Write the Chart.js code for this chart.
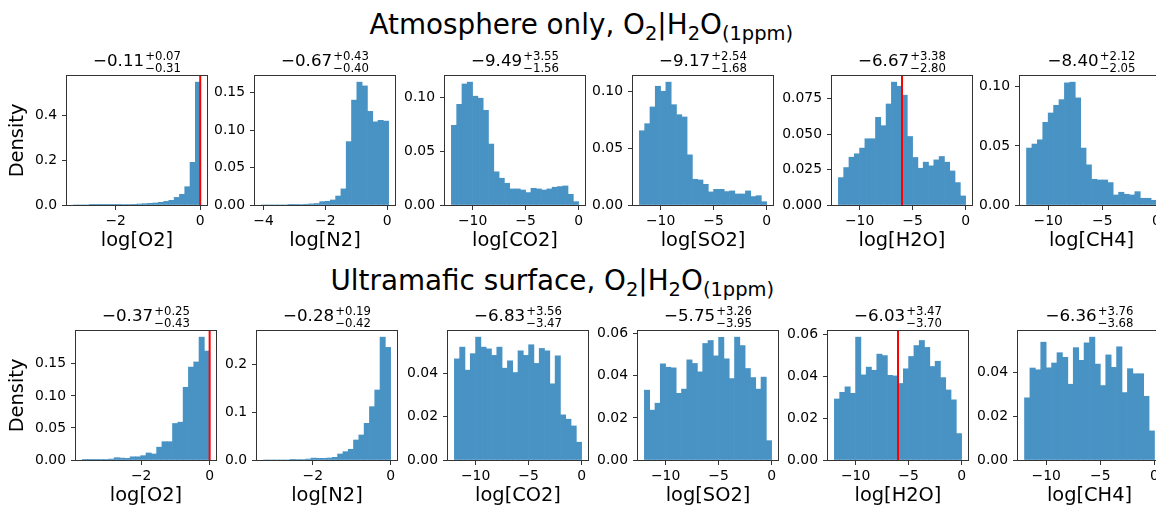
<!DOCTYPE html>
<html>
<head>
<meta charset="utf-8">
<script src="https://cdn.jsdelivr.net/npm/chart.js@4.4.1/dist/chart.umd.min.js"></script>
<style>
  body { margin: 0; width: 1156px; height: 508px; overflow: hidden; background: #fff; position: relative; font-family: 'DejaVu Sans', sans-serif; color: #000; }
  canvas { position: absolute; }
  .sup { position: absolute; font-size: 27.8px; line-height: 27.8px; white-space: nowrap; }
  .sup sub { font-size: 70%; vertical-align: -6px; line-height: 0; }
  .ptitle { position: absolute; font-size: 16.7px; line-height: 16.7px; white-space: nowrap; transform: translateX(-50%); }
  .ss { display: inline-block; vertical-align: -5.6px; font-size: 11.7px; line-height: 11.6px; margin-left: 1px; }
  .ss span { display: block; }
</style>
</head>
<body>
<script>
// species on the x axes
const species = ['O2', 'N2', 'CO2', 'SO2', 'H2O', 'CH4'];

// Atmosphere only - density per bin (24 bins each)
const atmO2  = [0, 0, 0, 0.0003, 0.0005, 0.0005, 0.001, 0.001, 0.0015, 0.002, 0.0025, 0.003, 0.0045, 0.006, 0.0075, 0.009, 0.012, 0.016, 0.021, 0.034, 0.048, 0.082, 0.191, 0.55];
const atmN2  = [0, 0, 0, 0, 0, 0.0003, 0.0005, 0.0007, 0.001, 0.0015, 0.002, 0.0045, 0.005, 0.0067, 0.012, 0.0215, 0.0846, 0.14, 0.164, 0.159, 0.125, 0.111, 0.113, 0.112];
const atmCO2 = [0.0744, 0.094, 0.113, 0.1147, 0.1016, 0.0997, 0.0884, 0.0569, 0.031, 0.025, 0.0203, 0.015, 0.015, 0.014, 0.0116, 0.0156, 0.015, 0.014, 0.015, 0.0166, 0.0172, 0.0178, 0.010, 0.0031];
const atmSO2 = [0.0653, 0.0715, 0.0862, 0.1044, 0.100, 0.108, 0.0882, 0.0794, 0.0774, 0.0441, 0.0226, 0.022, 0.0182, 0.0115, 0.0138, 0.0138, 0.0118, 0.0124, 0.0097, 0.0097, 0.0124, 0.0074, 0.0082, 0.0029];
const atmH2O = [0.0193, 0.0264, 0.0337, 0.0361, 0.0401, 0.0467, 0.0467, 0.0618, 0.0559, 0.0712, 0.0866, 0.0837, 0.0774, 0.0483, 0.0335, 0.0259, 0.0302, 0.0276, 0.0318, 0.0342, 0.0302, 0.024, 0.0158, 0.0064];
const atmCH4 = [0.0482, 0.0516, 0.0552, 0.070, 0.0779, 0.0844, 0.0892, 0.1034, 0.104, 0.0907, 0.0482, 0.034, 0.0218, 0.0212, 0.0212, 0.019, 0.0085, 0.0108, 0.0091, 0.0085, 0.0113, 0.0057, 0.0057, 0.004];

// Ultramafic surface - density per bin
const ultO2  = [0.0003, 0.0003, 0.0005, 0.001, 0.001, 0.0015, 0.0036, 0.003, 0.0026, 0.005, 0.005, 0.0068, 0.011, 0.0094, 0.020, 0.0286, 0.0286, 0.057, 0.059, 0.1135, 0.145, 0.153, 0.1917, 0.170];
const ultN2  = [0, 0, 0, 0, 0, 0.0005, 0.001, 0.001, 0.002, 0.004, 0.0035, 0.0035, 0.0042, 0.0056, 0.0126, 0.0175, 0.0225, 0.042, 0.0526, 0.077, 0.112, 0.147, 0.258, 0.2365];
const ultCO2 = [0.0466, 0.052, 0.0414, 0.049, 0.0566, 0.052, 0.0512, 0.0482, 0.052, 0.0423, 0.0457, 0.0403, 0.0503, 0.0482, 0.0531, 0.0445, 0.0514, 0.0503, 0.0351, 0.048, 0.0208, 0.0188, 0.0157, 0.0082];
const ultSO2 = [0.0332, 0.0237, 0.027, 0.0457, 0.0441, 0.0438, 0.0317, 0.0337, 0.0476, 0.0459, 0.0419, 0.0554, 0.0568, 0.0495, 0.0583, 0.0481, 0.0387, 0.0584, 0.0544, 0.0435, 0.0392, 0.0337, 0.0394, 0.0092];
const ultH2O = [0.0291, 0.0323, 0.0349, 0.0318, 0.0586, 0.0406, 0.0443, 0.0428, 0.0505, 0.0498, 0.0404, 0.0401, 0.0365, 0.0435, 0.0494, 0.0546, 0.057, 0.0537, 0.0446, 0.0471, 0.0393, 0.0334, 0.0287, 0.0126];
const ultCH4 = [0.0284, 0.042, 0.0412, 0.0538, 0.0421, 0.0443, 0.049, 0.0469, 0.0346, 0.0513, 0.0455, 0.0535, 0.0561, 0.0438, 0.034, 0.048, 0.0423, 0.0517, 0.0308, 0.0417, 0.0394, 0.0394, 0.0291, 0.0133];

// histogram ranges [first edge, last edge]
const atmBins = [[-3.0, 0.01], [-4.07, 0.05], [-12, 0], [-12, 0], [-12, 0], [-12, 0]];
const ultBins = [[-3.72, 0], [-3.27, 0], [-12, 0], [-12, 0], [-12, 0], [-12, 0]];

// median and +/- errors shown over each panel
const atmMedian = [-0.11, -0.67, -9.49, -9.17, -6.67, -8.40];
const atmPlus   = [0.07, 0.43, 3.55, 2.54, 3.38, 2.12];
const atmMinus  = [0.31, 0.40, 1.56, 1.68, 2.80, 2.05];
const ultMedian = [-0.37, -0.28, -6.83, -5.75, -6.03, -6.36];
const ultPlus   = [0.25, 0.19, 3.56, 3.26, 3.47, 3.76];
const ultMinus  = [0.43, 0.42, 3.47, 3.95, 3.70, 3.68];

// true value (red line), null where none
const truthValues = [0, null, null, null, -6, null];

// tick values
const atmXTicks = [[-2, 0], [-4, -2, 0], [-10, -5, 0], [-10, -5, 0], [-10, -5, 0], [-10, -5, 0]];
const ultXTicks = [[-2, 0], [-2, 0], [-10, -5, 0], [-10, -5, 0], [-10, -5, 0], [-10, -5, 0]];
const atmYTicks = [[0, 0.2, 0.4], [0, 0.05, 0.1, 0.15], [0, 0.05, 0.1], [0, 0.05, 0.1], [0, 0.025, 0.05, 0.075], [0, 0.05, 0.1]];
const ultYTicks = [[0, 0.05, 0.1, 0.15], [0, 0.1, 0.2], [0, 0.02, 0.04], [0, 0.02, 0.04, 0.06], [0, 0.02, 0.04, 0.06], [0, 0.02, 0.04]];
const atmYDecimals = [1, 2, 2, 2, 3, 2];
const ultYDecimals = [2, 1, 2, 2, 2, 2];

// layout of the plot boxes (pixels)
const rowTop = [76, 331];
const boxLefts = [[67, 255, 445, 633, 832, 1020], [76, 257, 448, 638, 828, 1018]];
const boxWidths = [140, 140, 140, 140, 140, 143];
const BOX_H = 129;
const BAR_COLOR = '#4893c4';
const TICK_FONT = { family: 'DejaVu Sans', size: 13.9 };
const LABEL_FONT = { family: 'DejaVu Sans', size: 19.4, lineHeight: 1 };

Chart.defaults.font.family = 'DejaVu Sans';
Chart.defaults.color = '#000';

function fmt(v, d) {
  const s = Math.abs(v).toFixed(d);
  return (v < 0 && Number(s) !== 0 ? '\u2212' : '') + s;
}

// box around the plot area, like matplotlib spines
const frame = {
  id: 'frame',
  afterDatasetsDraw(chart) {
    const { ctx, chartArea: a } = chart;
    ctx.save();
    ctx.strokeStyle = '#333';
    ctx.lineWidth = 1;
    ctx.strokeRect(a.left - 0.5, a.top - 0.5, a.right - a.left + 1, a.bottom - a.top + 1);
    ctx.restore();
  }
};

function addSuptitle(html, left, top) {
  const d = document.createElement('div');
  d.className = 'sup';
  d.style.left = left + 'px';
  d.style.top = top + 'px';
  d.innerHTML = html;
  document.body.appendChild(d);
}

function addPanelTitle(cx, baseline, med, plus, minus) {
  const d = document.createElement('div');
  d.className = 'ptitle';
  d.style.left = cx + 'px';
  d.style.top = (baseline - 15.85) + 'px';
  d.innerHTML = fmt(med, 2) + '<span class="ss"><span>+' + plus.toFixed(2) + '</span><span>\u2212' + minus.toFixed(2) + '</span></span>';
  document.body.appendChild(d);
}

function drawPanel(r, c, values, range, xTicks, yTicks, yDec) {
  const left = boxLefts[r][c], top = rowTop[r], w = boxWidths[c];
  const ly = c === 0 ? left : 52;
  const T = 4, R = 14, HX = 50;
  const canvas = document.createElement('canvas');
  canvas.width = ly + w + R;
  canvas.height = T + BOX_H + HX;
  canvas.style.left = (left - ly) + 'px';
  canvas.style.top = (top - T) + 'px';
  document.body.appendChild(canvas);

  const span = range[1] - range[0];
  const step = span / values.length;
  const bars = values.map((v, i) => ({ x: range[0] + (i + 0.5) * step, y: v }));
  const yMax = Math.max(...values) * 1.05;

  const datasets = [{
    type: 'bar', data: bars, backgroundColor: BAR_COLOR, borderWidth: 0,
    barPercentage: 1, categoryPercentage: 1, order: 1
  }];
  const truth = truthValues[c];
  if (truth !== null) {
    datasets.push({
      type: 'line', data: [{ x: truth, y: 0 }, { x: truth, y: yMax }],
      borderColor: 'red', borderWidth: 2, pointRadius: 0, order: 0
    });
  }

  const grid = { drawOnChartArea: false, drawTicks: true, tickLength: 5, color: '#333', offset: false };

  new Chart(canvas, {
    type: 'bar',
    data: { datasets: datasets },
    options: {
      responsive: false,
      animation: false,
      events: [],
      layout: { padding: { top: T, right: R, left: 0, bottom: 0 } },
      plugins: { legend: { display: false }, tooltip: { enabled: false } },
      scales: {
        x: {
          type: 'linear', offset: false,
          min: range[0] - 0.05 * span, max: range[1] + 0.05 * span,
          afterBuildTicks: s => { s.ticks = xTicks.map(v => ({ value: v })); },
          afterFit: s => { s.height = HX; s.paddingLeft = 0; s.paddingRight = 0; },
          ticks: { callback: v => fmt(v, 0), font: TICK_FONT, padding: 3, maxRotation: 0, autoSkip: false },
          grid: grid,
          border: { display: false },
          title: { display: true, text: 'log[' + species[c] + ']', font: LABEL_FONT, padding: { top: 0, bottom: 4.5 } }
        },
        y: {
          min: 0, max: yMax,
          afterBuildTicks: s => { s.ticks = yTicks.map(v => ({ value: v })); },
          afterFit: s => { s.width = ly; s.paddingTop = 0; s.paddingBottom = 0; },
          ticks: { callback: v => fmt(v, yDec), font: TICK_FONT, padding: 5, autoSkip: false },
          grid: grid,
          border: { display: false },
          title: c === 0
            ? { display: true, text: 'Density', font: LABEL_FONT, padding: { top: 8.6, bottom: 0 } }
            : { display: false }
        }
      }
    },
    plugins: [frame]
  });
}

addSuptitle('Atmosphere only, O<sub>2</sub>|H<sub>2</sub>O<sub>(1ppm)</sub>', 369.5, 10.5);
addSuptitle('Ultramafic surface, O<sub>2</sub>|H<sub>2</sub>O<sub>(1ppm)</sub>', 330.5, 266.5);

const atmSeries = [atmO2, atmN2, atmCO2, atmSO2, atmH2O, atmCH4];
const ultSeries = [ultO2, ultN2, ultCO2, ultSO2, ultH2O, ultCH4];

species.forEach((s, c) => {
  drawPanel(0, c, atmSeries[c], atmBins[c], atmXTicks[c], atmYTicks[c], atmYDecimals[c]);
  drawPanel(1, c, ultSeries[c], ultBins[c], ultXTicks[c], ultYTicks[c], ultYDecimals[c]);
  addPanelTitle(boxLefts[0][c] + boxWidths[c] / 2, rowTop[0] - 9, atmMedian[c], atmPlus[c], atmMinus[c]);
  addPanelTitle(boxLefts[1][c] + boxWidths[c] / 2, rowTop[1] - 9, ultMedian[c], ultPlus[c], ultMinus[c]);
});
</script>
</body>
</html>
